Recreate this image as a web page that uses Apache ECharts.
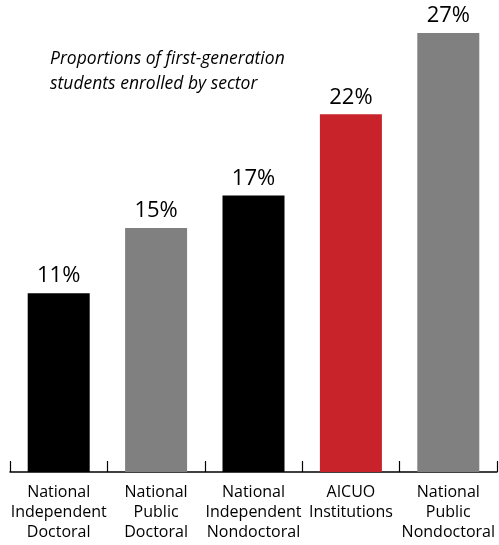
<!DOCTYPE html>
<html><head><meta charset="utf-8">
<script src="https://cdn.jsdelivr.net/npm/echarts@6/dist/echarts.min.js"></script>
<style>html,body{margin:0;padding:0;background:#fff}#c{width:499px;height:545px}</style>
</head><body><div id="c"></div>
<script>
const categories = ["National\nIndependent\nDoctoral","National\nPublic\nDoctoral","National\nIndependent\nNondoctoral","AICUO\nInstitutions","National\nPublic\nNondoctoral"];
const values = [11, 15, 17, 22, 27];
const colors = ["#000000","#808080","#000000","#c8222b","#808080"];
const titleLines = ["Proportions of first-generation","students enrolled by sector"];
const chart = echarts.init(document.getElementById('c'));
chart.setOption({
  animation:false,
  title:{text:titleLines.join("\n"),left:45,top:42,textStyle:{fontFamily:"Open Sans",fontStyle:"italic",fontWeight:"normal",fontSize:17.5,lineHeight:25,color:"#000"}},
  grid:{left:10,right:2,top:33,bottom:73},
  xAxis:{type:"category",data:categories,
    axisLine:{show:true,lineStyle:{color:"#000",width:1.5}},
    axisTick:{show:true,inside:true,length:11,interval:0,lineStyle:{color:"#000",width:1.2}},
    axisLabel:{color:"#000",fontFamily:"Open Sans",fontSize:16,lineHeight:20,margin:10,interval:0}},
  yAxis:{type:"value",min:0,max:27,show:false,splitLine:{show:false}},
  series:[{type:"bar",barWidth:62,z:1,
    data:values.map((v,i)=>({value:v,itemStyle:{color:colors[i]}})),
    label:{show:true,position:"top",distance:6,formatter:"{c}%",color:"#000",fontFamily:"Open Sans",fontSize:22}}]
});
</script></body></html>
